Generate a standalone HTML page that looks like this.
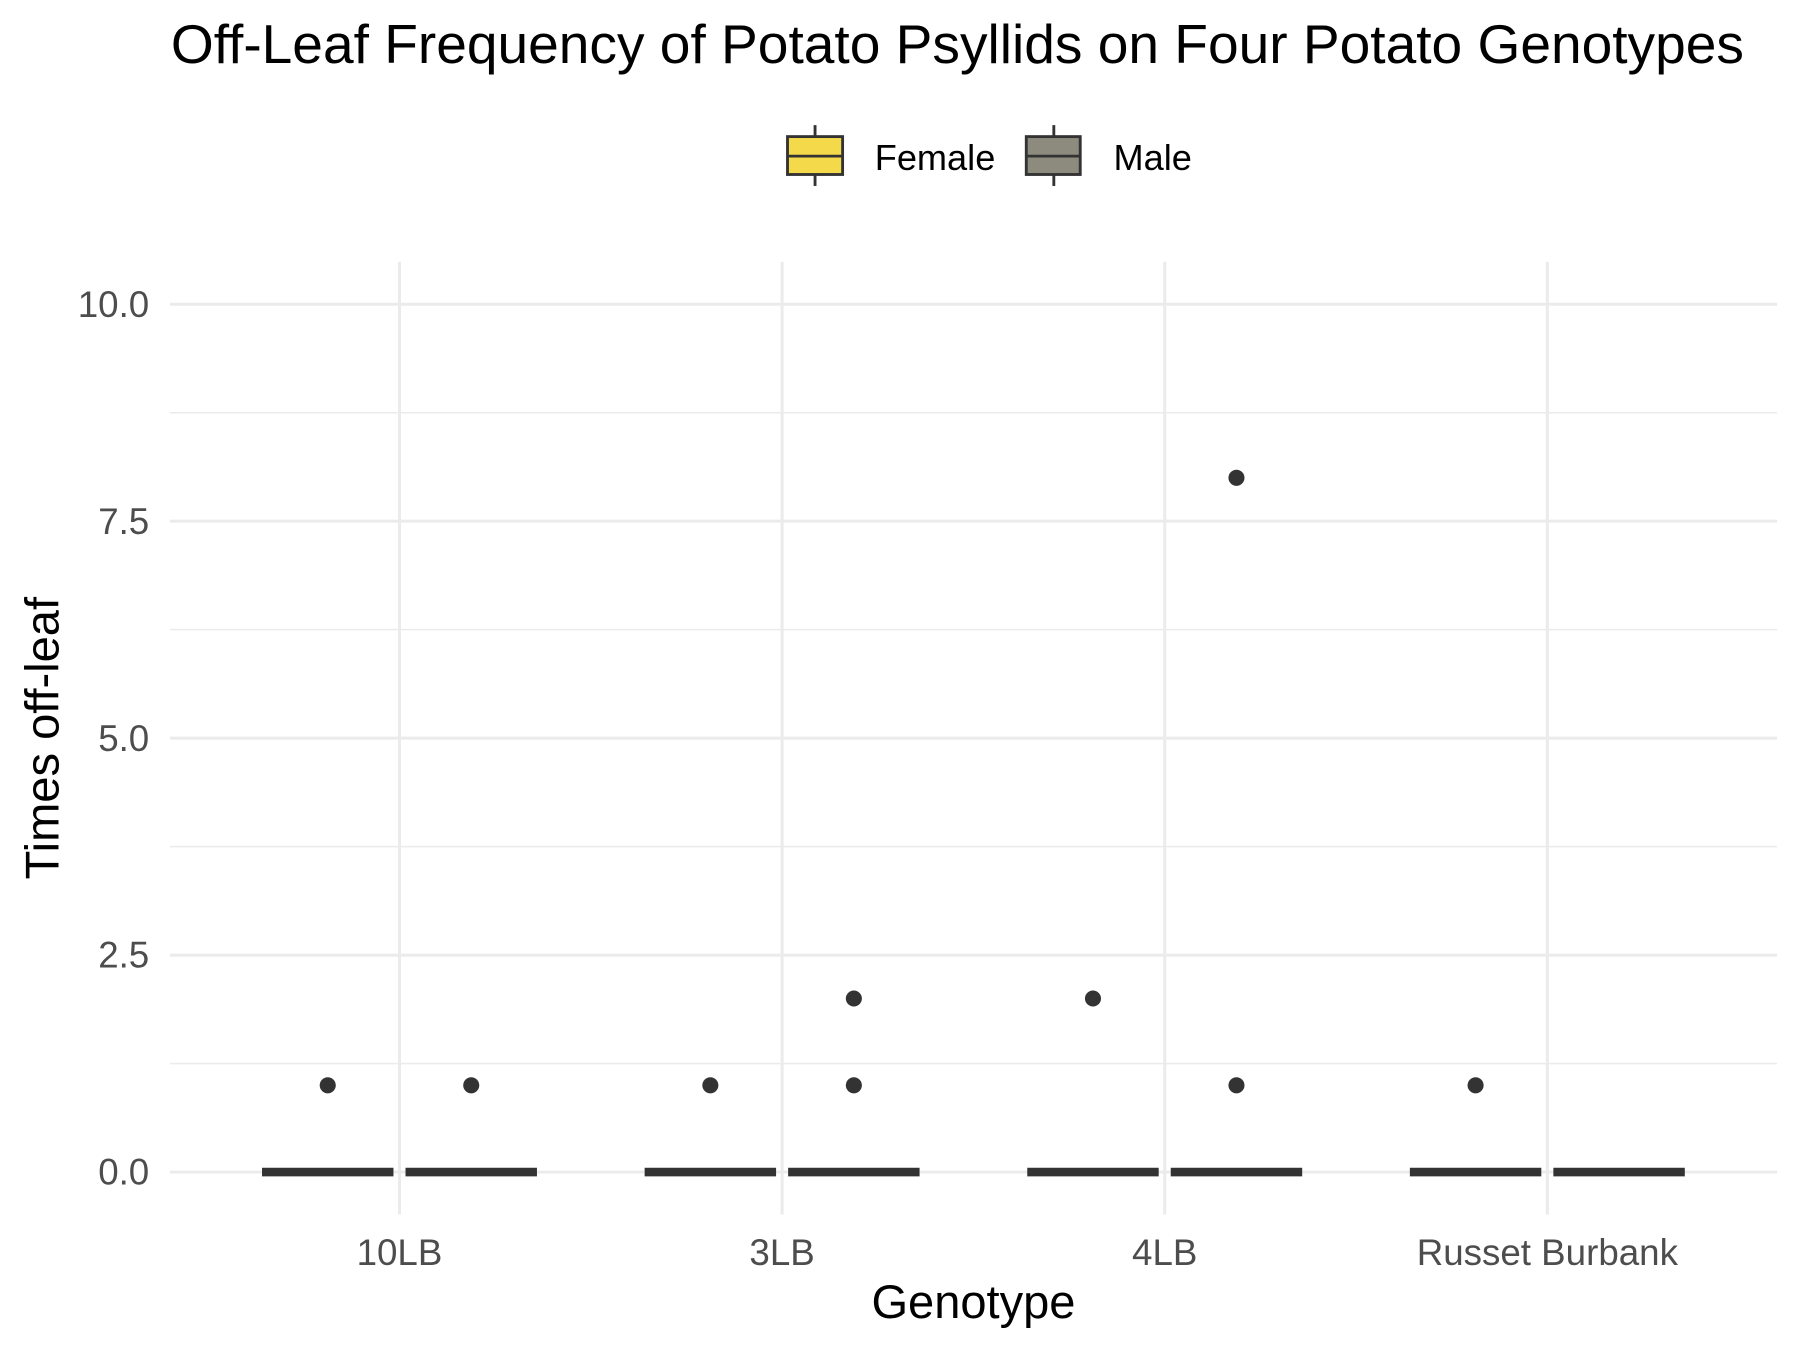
<!DOCTYPE html>
<html><head><meta charset="utf-8"><style>
html,body{margin:0;padding:0;background:#fff;}
svg{display:block;font-family:"Liberation Sans",Arial,sans-serif;}
</style></head><body>
<svg id="chart" width="1800" height="1350" viewBox="0 0 1568 1176" preserveAspectRatio="none" xmlns="http://www.w3.org/2000/svg">
<rect width="1568" height="1176" fill="#fff"/>
<text x="834" y="55" text-anchor="middle" font-size="48" fill="#000">Off-Leaf Frequency of Potato Psyllids on Four Potato Genotypes</text>
<g id="legend">
  <g>
    <line x1="710" y1="109" x2="710" y2="162" stroke="#333" stroke-width="2.5"/>
    <rect x="686" y="119" width="48" height="33" fill="#F4DA4A" stroke="#333" stroke-width="2.5"/>
    <line x1="686" y1="136" x2="734" y2="136" stroke="#333" stroke-width="2.5"/>
    <text x="762" y="148" font-size="31.5" fill="#000">Female</text>
  </g>
  <g>
    <line x1="918" y1="109" x2="918" y2="162" stroke="#333" stroke-width="2.5"/>
    <rect x="894" y="119" width="47" height="33" fill="#8C8B7E" stroke="#333" stroke-width="2.5"/>
    <line x1="894" y1="136" x2="941" y2="136" stroke="#333" stroke-width="2.5"/>
    <text x="970" y="148" font-size="31.5" fill="#000">Male</text>
  </g>
</g>
<g id="grid"></g>
<g id="marks"></g>
<g id="axes"></g>
<text x="848" y="1148" text-anchor="middle" font-size="41" fill="#000">Genotype</text>
<text transform="translate(51,643) rotate(-90)" text-anchor="middle" font-size="41" fill="#000">Times off-leaf</text>
</svg>
<script>
const categories = ["10LB", "3LB", "4LB", "Russet Burbank"];
const femaleMedian = [0, 0, 0, 0];
const maleMedian = [0, 0, 0, 0];
const femaleOutliers = [[1], [1], [2], [1]];
const maleOutliers = [[1], [1, 2], [1, 8], []];
const yTicks = [0, 2.5, 5, 7.5, 10];
const yTickLabels = ["0.0", "2.5", "5.0", "7.5", "10.0"];

const NS = "http://www.w3.org/2000/svg";
const panelL = 148, panelR = 1548, panelT = 228, panelB = 1058;
function y(v){ return 1021 + (265 - 1021) * v / 10; }
function x(i){ return 348 + i * 333.3; }
const dodge = 62.5, boxW = 112;
function mk(tag, attrs, parent){ const e=document.createElementNS(NS,tag); for(const k in attrs) e.setAttribute(k,attrs[k]); parent.appendChild(e); return e; }
const grid = document.getElementById('grid'), marks = document.getElementById('marks'), axes = document.getElementById('axes');
for (let k=0;k<yTicks.length-1;k++){
  const v=(yTicks[k]+yTicks[k+1])/2;
  const l=mk('line',{x1:panelL,x2:panelR,y1:y(v),y2:y(v),stroke:'#ebebeb','stroke-width':1.3},grid);
  
  
}
yTicks.forEach((v,k)=>{
  const l=mk('line',{x1:panelL,x2:panelR,y1:y(v),y2:y(v),stroke:'#ebebeb','stroke-width':2.6},grid);
  
  
  const t=mk('text',{x:130,y:y(v)+11,'text-anchor':'end','font-size':32,fill:'#4d4d4d'},axes);
  t.textContent=yTickLabels[k];
  
  
});
categories.forEach((c,i)=>{
  const l=mk('line',{x1:x(i),x2:x(i),y1:panelT,y2:panelB,stroke:'#ebebeb','stroke-width':2.6},grid);
  
  
  const t=mk('text',{x:x(i),y:1102,'text-anchor':'middle','font-size':32,fill:'#4d4d4d'},axes);
  t.textContent=c;
  
  
  [[femaleMedian,femaleOutliers,-dodge,'#F4DA4A','female'],[maleMedian,maleOutliers,dodge,'#8C8B7E','male']].forEach(([med,out,off,col,nm])=>{
    const cx=x(i)+off;
    const b=mk('rect',{x:cx-boxW/2,y:y(med[i])-2.5,width:boxW,height:5,fill:col,stroke:'#333','stroke-width':2.5},marks);
    
    
    const m=mk('line',{x1:cx-boxW/2,x2:cx+boxW/2,y1:y(med[i]),y2:y(med[i]),stroke:'#333','stroke-width':5},marks);
    
    
    out[i].forEach(v=>{
      const p=mk('circle',{cx:cx,cy:y(v),r:7,fill:'#333'},marks);
      
      
    });
  });
});
</script>
</body></html>
